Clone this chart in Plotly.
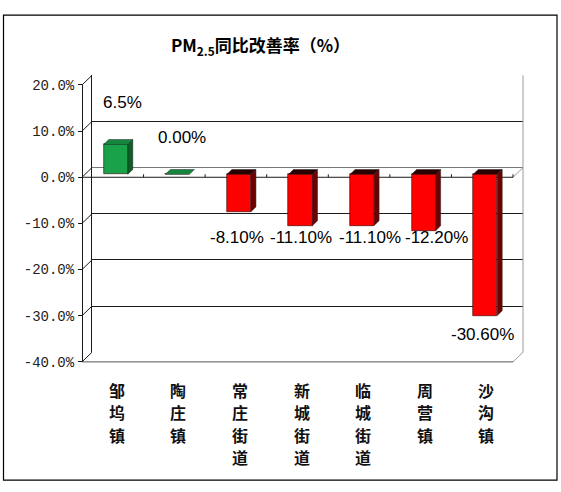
import plotly.graph_objects as go

# ---------------- data ----------------
categories = ["邹坞镇", "陶庄镇", "常庄街道", "新城街道", "临城街道", "周营镇", "沙沟镇"]
values = [6.5, 0.0, -8.1, -11.1, -11.1, -12.2, -30.6]
value_labels = ["6.5%", "0.00%", "-8.10%", "-11.10%", "-11.10%", "-12.20%", "-30.60%"]
tick_values = [20, 10, 0, -10, -20, -30, -40]
tick_labels = ["20.0%", "10.0%", "0.0%", "-10.0%", "-20.0%", "-30.0%", "-40.0%"]
title_text = "PM<sub>2.5</sub>同比改善率（%）"

# label placement (data units, front plane) -- positions kept apart from data
label_x_off = [0.15, 0.12, 0.02, 0.05, 0.17, 0.26, 0.0]
label_y = [16.3, 8.6, -13.0, -13.0, -13.0, -13.0, -34.0]

# ---------------- geometry / style ----------------
W, H = 561, 492
FRONT_L, FRONT_R = 82, 513          # px of front plane left/right
ZERO_FRONT = 176                     # px of 0% on the front plane
UNIT_PX = 4.77                       # px per 1%
CAT_PX = (FRONT_R - FRONT_L) / 7.0   # px per category
DEPTH = 10                           # px offset front -> back wall
BAR_PLANE = 3                        # px offset front -> bar front face
BAR_DEPTH = 5                        # px depth of the bars
BAR_W = 0.39
CAT_ROW0, CAT_ROW_STEP = 396, 23.0   # px rows of the vertical category text

def fx(px):   # px -> paper x
    return px / W

def fy(px):   # px -> paper y
    return 1 - px / H

BX, BY = DEPTH / CAT_PX, DEPTH / UNIT_PX
PX_, PY_ = BAR_PLANE / CAT_PX, BAR_PLANE / UNIT_PX
DX, DY = BAR_DEPTH / CAT_PX, BAR_DEPTH / UNIT_PX

full_xr = [(0 - FRONT_L) / CAT_PX - 0.5, (W - FRONT_L) / CAT_PX - 0.5]
full_yr = [(ZERO_FRONT - H) / UNIT_PX, ZERO_FRONT / UNIT_PX]

ymin, ymax = -40, 20
front_top = ZERO_FRONT - ymax * UNIT_PX
front_bot = ZERO_FRONT - ymin * UNIT_PX

GREEN, GREEN_SIDE, GREEN_TOP = "#1aa24b", "#0b5e26", "#16883e"
RED, RED_SIDE, RED_TOP = "#ff0000", "#6e0000", "#2a0000"
DARK = "#1a1a1a"
GREY = "#9a9a9a"

fig = go.Figure()

# --- subplot 1: back wall with gridlines
fig.add_trace(go.Scatter(x=[0], y=[0], mode="markers", marker=dict(opacity=0, size=1),
                         hoverinfo="skip", showlegend=False, xaxis="x", yaxis="y"))

# --- subplot 2: wall / floor / zero-plane edges (drawn beneath bars)
def seg(x0, y0, x1, y1, color=DARK, width=1):
    fig.add_trace(go.Scatter(x=[x0, x1], y=[y0, y1], mode="lines",
                             line=dict(color=color, width=width),
                             hoverinfo="skip", showlegend=False,
                             xaxis="x2", yaxis="y2"))

xl, xr = -0.5, 6.5
for v in tick_values:
    seg(xl, v, xl + BX, v + BY)
# zero plane
seg(xl, 0, xr, 0)
seg(xr, 0, xr + BX, BY, GREY)
for k in range(1, 8):
    seg(xl + k, 0, xl + k, 0.65)
# floor
seg(xl, ymin, xr, ymin, "#555555")
seg(xr, ymin, xr + BX, ymin + BY, GREY)
# right edge of back wall
seg(xr + BX, ymin + BY, xr + BX, ymax + BY, GREY)

# --- subplot 3: bars (front faces) + 3D side/top faces
xs = [i + PX_ for i in range(len(values))]
fcol = [GREEN if v >= 0 else RED for v in values]
fig.add_trace(go.Bar(x=xs, y=values, base=[PY_] * len(values), width=BAR_W,
                     marker=dict(color=fcol, line=dict(color="#300000", width=0.6)),
                     hoverinfo="skip", showlegend=False, xaxis="x3", yaxis="y3"))

hw = BAR_W / 2
for xc, v in zip(xs, values):
    y0, y1 = PY_, v + PY_
    side_c = GREEN_SIDE if v >= 0 else RED_SIDE
    top_c = GREEN_TOP if v >= 0 else RED_TOP
    if v != 0:
        fig.add_trace(go.Scatter(
            x=[xc + hw, xc + hw, xc + hw + DX, xc + hw + DX, xc + hw],
            y=[y0, y1, y1 + DY, y0 + DY, y0],
            fill="toself", fillcolor=side_c, mode="lines",
            line=dict(color="#222222", width=0.5),
            hoverinfo="skip", showlegend=False, xaxis="x3", yaxis="y3"))
    yt = max(y0, y1)
    fig.add_trace(go.Scatter(
        x=[xc - hw, xc + hw, xc + hw + DX, xc - hw + DX, xc - hw],
        y=[yt, yt, yt + DY, yt + DY, yt],
        fill="toself", fillcolor=top_c, mode="lines",
        line=dict(color="#222222", width=0.5),
        hoverinfo="skip", showlegend=False, xaxis="x3", yaxis="y3"))

# data labels
for i, (t, dxo, ly) in enumerate(zip(value_labels, label_x_off, label_y)):
    fig.add_annotation(x=i + dxo, y=ly, xref="x3", yref="y3", text=t,
                       showarrow=False, xanchor="center", yanchor="middle",
                       font=dict(family="Liberation Sans", size=17, color="#000000"))

# --- subplot 4: front axis (tick labels)
fig.add_trace(go.Scatter(x=[0], y=[0], mode="markers", marker=dict(opacity=0, size=1),
                         hoverinfo="skip", showlegend=False, xaxis="x4", yaxis="y4"))

# category names, written vertically one character per row
for i, name in enumerate(categories):
    for k, ch in enumerate(name):
        fig.add_annotation(x=i, y=fy(CAT_ROW0 + k * CAT_ROW_STEP),
                           xref="x4", yref="paper", text=ch, showarrow=False,
                           xanchor="center", yanchor="middle",
                           font=dict(family="Noto Sans CJK SC", size=16, color="#111111",
                                     weight=600))

fig.update_layout(
    width=W, height=H,
    margin=dict(l=0, r=0, t=0, b=0),
    paper_bgcolor="white",
    plot_bgcolor="rgba(0,0,0,0)",
    showlegend=False,
    bargap=0,
    xaxis=dict(domain=[fx(FRONT_L + DEPTH), fx(FRONT_R + DEPTH)], range=[-0.5, 6.5],
               visible=False, fixedrange=True),
    yaxis=dict(domain=[fy(front_bot - DEPTH), fy(front_top - DEPTH)],
               range=[ymin, ymax], dtick=10, tick0=0,
               showgrid=True, gridcolor=DARK, gridwidth=1,
               zeroline=True, zerolinecolor="#777777", zerolinewidth=1,
               showline=True, linecolor=DARK, linewidth=1,
               showticklabels=False, ticks="", fixedrange=True),
    xaxis2=dict(domain=[0, 1], range=full_xr, visible=False, anchor="y2"),
    yaxis2=dict(domain=[0, 1], range=full_yr, visible=False, anchor="x2"),
    xaxis3=dict(domain=[0, 1], range=full_xr, visible=False, anchor="y3", overlaying="x2"),
    yaxis3=dict(domain=[0, 1], range=full_yr, visible=False, anchor="x3", overlaying="y2"),
    xaxis4=dict(domain=[fx(FRONT_L + 4), fx(FRONT_R + 4)], range=[-0.5, 6.5],
                anchor="y4", showticklabels=False, ticks="", showline=False,
                showgrid=False, zeroline=False),
    yaxis4=dict(domain=[fy(front_bot), fy(front_top)], range=[ymin, ymax],
                anchor="free", position=fx(FRONT_L), side="left",
                tickmode="array", tickvals=tick_values, ticktext=tick_labels,
                ticks="outside", ticklen=4, tickcolor=DARK,
                showline=True, linecolor=DARK, linewidth=1,
                showgrid=False, zeroline=False, ticklabelstandoff=1,
                tickfont=dict(family="Liberation Mono", size=14, color="#222222")),
)

fig.add_annotation(x=fx(260), y=fy(40), xref="paper", yref="paper",
                   text=title_text, showarrow=False,
                   xanchor="center", yanchor="middle",
                   font=dict(family="Noto Sans CJK SC", size=17, color="#000000",
                             weight=600))

# outer frame
fig.add_shape(type="rect", xref="paper", yref="paper",
              x0=fx(3.5), x1=fx(557), y0=fy(489), y1=fy(8.5),
              line=dict(color="black", width=1.2))

fig.write_html(
    "out.html",
    config={"displayModeBar": False},
    post_script="document.body.style.margin='0';document.body.style.overflow='hidden';",
)
